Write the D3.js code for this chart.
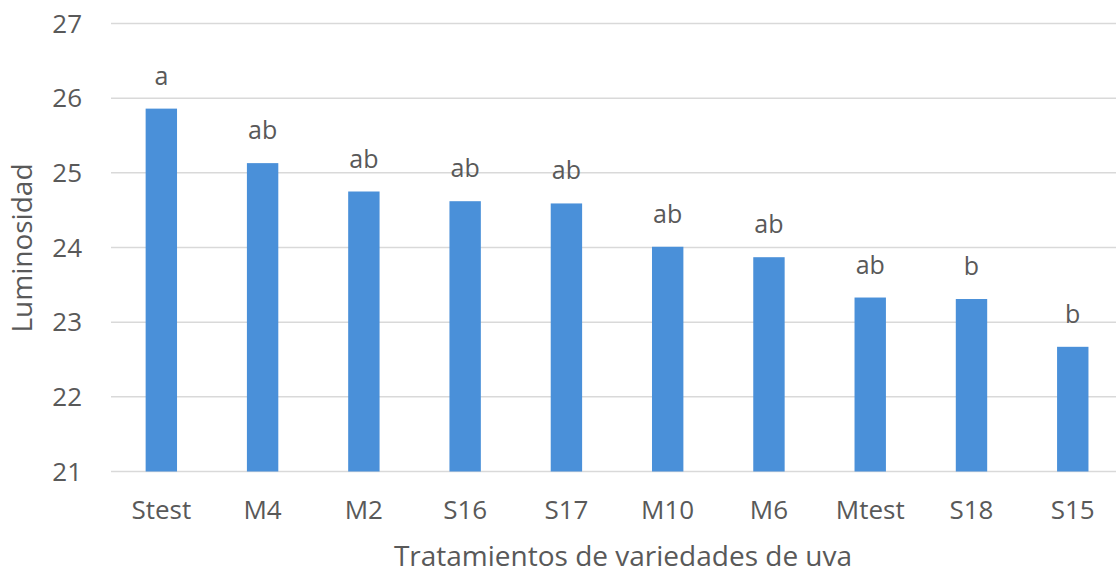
<!DOCTYPE html>
<html><head><meta charset="utf-8">
<script src="https://cdn.jsdelivr.net/npm/d3@7"></script>
<style>
html,body{margin:0;padding:0;background:#fff;}
svg{display:block;}
text{font-family:"Open Sans","Noto Sans",sans-serif;fill:#595959;}
</style></head>
<body>
<script>
const categories = ["Stest","M4","M2","S16","S17","M10","M6","Mtest","S18","S15"];
const values = [25.86, 25.13, 24.75, 24.62, 24.59, 24.01, 23.87, 23.33, 23.31, 22.67];
const letters = ["a","ab","ab","ab","ab","ab","ab","ab","b","b"];
const yTicks = [21,22,23,24,25,26,27];
const xTitle = "Tratamientos de variedades de uva";
const yTitle = "Luminosidad";

const W = 1116, H = 574;
const svg = d3.select("body").append("svg").attr("width", W).attr("height", H);

const x = d3.scaleBand().domain(categories).range([110.7, 1123.4]).paddingInner(0.69).paddingOuter(0.345);
const y = d3.scaleLinear().domain([21, 27]).range([471.5, 23.5]);

// gridlines
svg.append("g").selectAll("line").data(yTicks).join("line")
  .attr("x1", 111).attr("x2", W)
  .attr("y1", d => y(d)).attr("y2", d => y(d))
  .attr("stroke", "#d9d9d9").attr("stroke-width", 1.5);

// y tick labels
svg.append("g").selectAll("text").data(yTicks).join("text")
  .attr("x", 82).attr("y", d => y(d)).attr("dy", "0.35em")
  .attr("text-anchor", "end").attr("font-size", 26)
  .text(d => d);

// bars
svg.append("g").selectAll("rect").data(categories).join("rect")
  .attr("x", d => x(d)).attr("width", x.bandwidth())
  .attr("y", (d, i) => y(values[i]))
  .attr("height", (d, i) => y(21) - y(values[i]))
  .attr("fill", "#4a90d9");

// letters
svg.append("g").selectAll("text").data(categories).join("text")
  .attr("x", d => x(d) + x.bandwidth() / 2)
  .attr("y", (d, i) => y(values[i]) - 24)
  .attr("text-anchor", "middle").attr("font-size", 25)
  .text((d, i) => letters[i]);

// x tick labels
svg.append("g").selectAll("text").data(categories).join("text")
  .attr("x", d => x(d) + x.bandwidth() / 2)
  .attr("y", 519)
  .attr("text-anchor", "middle").attr("font-size", 26)
  .text(d => d);

// axis titles
svg.append("text").attr("x", 623).attr("y", 566)
  .attr("text-anchor", "middle").attr("font-size", 28).text(xTitle);
svg.append("text").attr("transform", "translate(32,248) rotate(-90)")
  .attr("text-anchor", "middle").attr("font-size", 28).text(yTitle);
</script>
</body></html>
